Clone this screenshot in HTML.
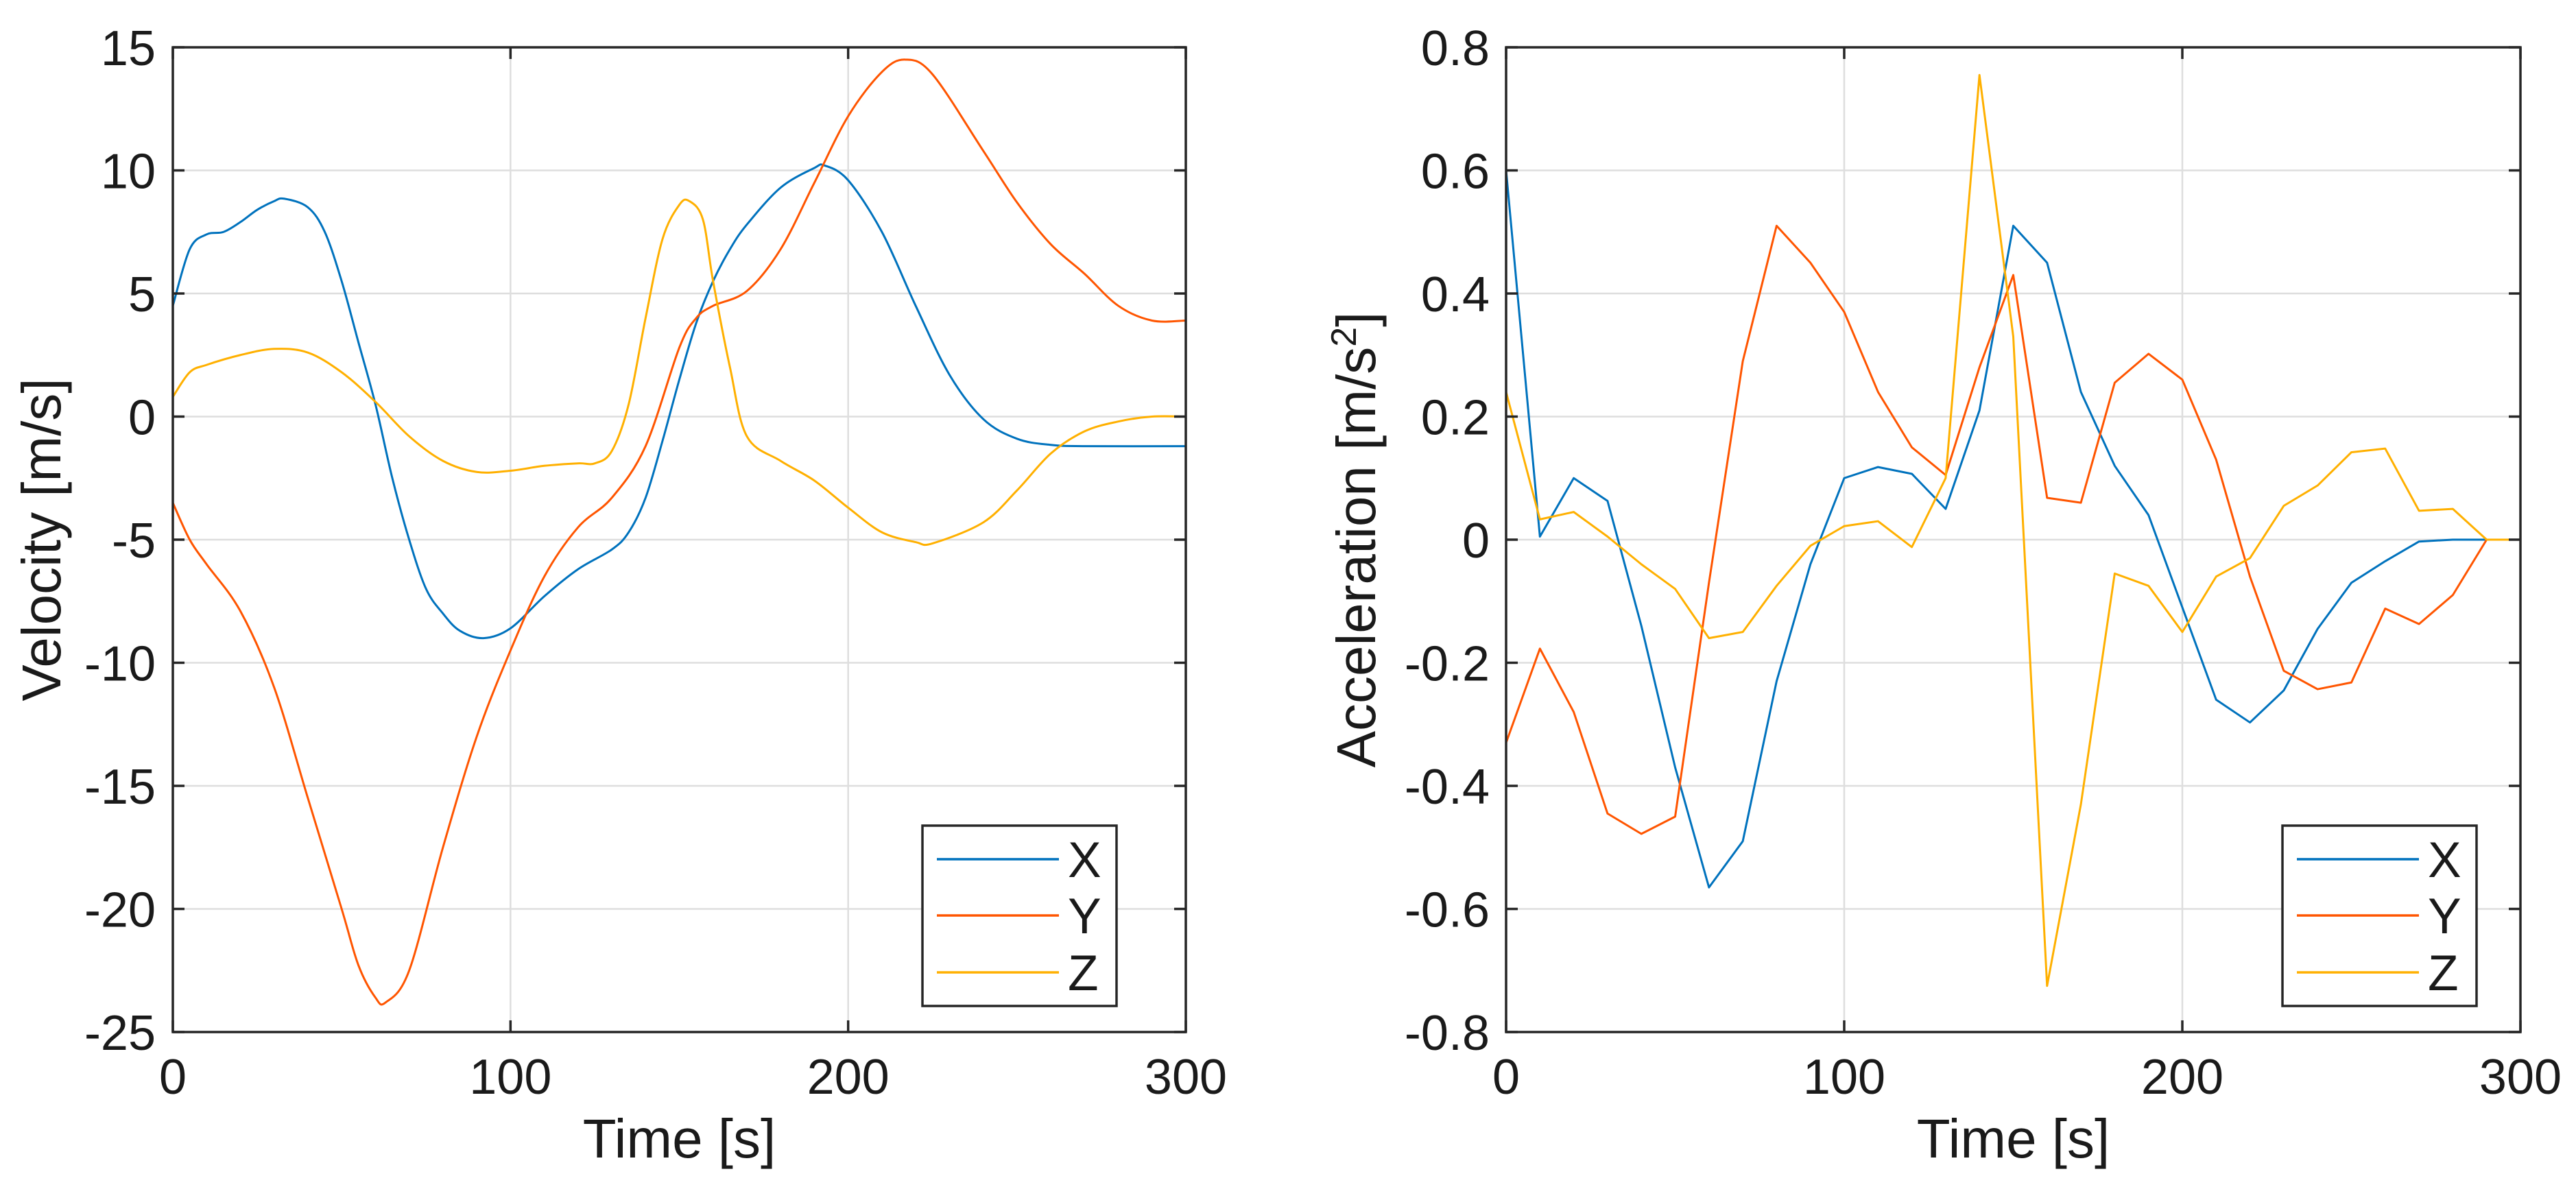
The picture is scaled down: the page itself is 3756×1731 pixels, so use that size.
<!DOCTYPE html>
<html><head><meta charset="utf-8">
<style>
html,body{margin:0;padding:0;background:#fff;}
svg{display:block;}
text{font-family:"Liberation Sans",sans-serif;fill:#1a1a1a;}
</style></head>
<body>
<svg id="fig" width="3756" height="1731" viewBox="0 0 3756 1731"></svg>
<script>
// ---- Velocity chart data ----
const velXt = [0,5,10,15,20,25,30,33,40,45,50,55,60,65,70,75,80,85,92,100,110,120,130,135,140,145,150,155,160,165,170,180,190,193,200,210,220,230,240,250,260,270,300];
const velX  = [4.5,6.8,7.4,7.5,7.9,8.4,8.75,8.85,8.5,7.5,5.5,3,0.5,-2.5,-5,-7,-8,-8.7,-9,-8.6,-7.3,-6.2,-5.4,-4.7,-3.3,-1,1.5,3.8,5.5,6.8,7.8,9.3,10.1,10.2,9.6,7.5,4.5,1.7,-0.1,-0.9,-1.15,-1.2,-1.2];
const velYt = [0,5,10,20,30,40,50,55,60,63,70,80,90,100,110,120,130,140,150,155,160,170,180,190,200,210,217,225,240,250,260,270,280,290,300];
const velY  = [-3.5,-5,-6,-7.9,-11,-15.5,-20,-22.3,-23.6,-23.8,-22.5,-17.5,-13,-9.5,-6.5,-4.5,-3.3,-1.2,2.8,4,4.5,5.1,6.8,9.5,12.2,14.0,14.5,13.9,10.8,8.7,7,5.8,4.5,3.9,3.9];
const velZt = [0,5,10,20,30,40,50,60,70,80,90,100,110,120,125,130,135,140,145,150,153,157,160,165,170,180,190,200,210,220,225,240,250,260,270,280,290,300];
const velZ  = [0.8,1.8,2.1,2.5,2.75,2.6,1.8,0.6,-0.8,-1.8,-2.25,-2.2,-2.0,-1.9,-1.9,-1.4,0.5,4,7.2,8.6,8.75,8,5.5,2,-0.8,-1.8,-2.6,-3.7,-4.7,-5.1,-5.15,-4.3,-3,-1.5,-0.6,-0.2,0,0];
const velTicksY = [-25,-20,-15,-10,-5,0,5,10,15];
const timeTicks = [0,100,200,300];
// ---- Acceleration chart data ----
const accT = [0,10,20,30,40,50,60,70,80,90,100,110,120,130,140,150,160,170,180,190,200,210,220,230,240,250,260,270,280,290,300];
const accX = [0.6,0.005,0.1,0.063,-0.14,-0.37,-0.565,-0.49,-0.23,-0.04,0.1,0.118,0.107,0.05,0.21,0.51,0.45,0.24,0.12,0.04,-0.11,-0.26,-0.297,-0.245,-0.145,-0.07,-0.035,-0.003,0,0,0];
const accY = [-0.33,-0.177,-0.28,-0.445,-0.478,-0.45,-0.07,0.29,0.51,0.45,0.37,0.24,0.15,0.105,0.28,0.43,0.068,0.06,0.255,0.302,0.26,0.13,-0.06,-0.213,-0.243,-0.232,-0.112,-0.137,-0.09,0,0];
const accZ = [0.24,0.033,0.045,0.005,-0.04,-0.08,-0.16,-0.15,-0.075,-0.01,0.022,0.03,-0.012,0.1,0.755,0.33,-0.725,-0.43,-0.055,-0.075,-0.15,-0.06,-0.03,0.055,0.088,0.142,0.148,0.047,0.05,0,0];
const accTicksY = [-0.8,-0.6,-0.4,-0.2,0,0.2,0.4,0.6,0.8];
const seriesNames = ['X','Y','Z'];

const COLORS = ['#0072BD','#FF5500','#FFB000'];
const NS = 'http://www.w3.org/2000/svg';
const svg = document.getElementById('fig');
function mk(tag, attrs, parent){
  const e = document.createElementNS(NS, tag);
  for (const k in attrs) e.setAttribute(k, attrs[k]);
  (parent||svg).appendChild(e);
  return e;
}
function smoothPath(pts){
  let d = 'M'+pts[0][0].toFixed(2)+','+pts[0][1].toFixed(2);
  for (let i=0;i<pts.length-1;i++){
    const p0=pts[Math.max(0,i-1)], p1=pts[i], p2=pts[i+1], p3=pts[Math.min(pts.length-1,i+2)];
    const c1=[p1[0]+(p2[0]-p0[0])/6, p1[1]+(p2[1]-p0[1])/6];
    const c2=[p2[0]-(p3[0]-p1[0])/6, p2[1]-(p3[1]-p1[1])/6];
    d+=' C'+c1[0].toFixed(2)+','+c1[1].toFixed(2)+' '+c2[0].toFixed(2)+','+c2[1].toFixed(2)+' '+p2[0].toFixed(2)+','+p2[1].toFixed(2);
  }
  return d;
}
function linePath(pts){ return 'M'+pts.map(p=>p[0].toFixed(2)+','+p[1].toFixed(2)).join(' L'); }

function drawChart(cfg){
  const {L,R,T,B,ymin,ymax,yticks,series,smooth,prefix,ylabel,ylabelX,legend,tickLabelRight} = cfg;
  const xs = t => L + (t-0)/300*(R-L);
  const ys = v => B - (v-ymin)/(ymax-ymin)*(B-T);
  const g = mk('g',{});
  
  
  // grid
  const grid = mk('g',{stroke:'#dedede','stroke-width':2.5},g);
  
  
  timeTicks.forEach(t=>{ if(t>0&&t<300) mk('line',{x1:xs(t),x2:xs(t),y1:T,y2:B},grid); });
  yticks.forEach(v=>{ if(v>ymin&&v<ymax) mk('line',{x1:L,x2:R,y1:ys(v),y2:ys(v)},grid); });
  // series
  series.forEach((s,i)=>{
    const pts = s.t.map((t,k)=>[xs(t), ys(s.v[k])]);
    const p = mk('path',{d: smooth?smoothPath(pts):linePath(pts), fill:'none', stroke:COLORS[i], 'stroke-width':3, 'stroke-linejoin':'round'}, g);
    
    
  });
  // axes box
  const box = mk('rect',{x:L,y:T,width:R-L,height:B-T,fill:'none',stroke:'#262626','stroke-width':3.5},g);
  
  
  const tk = mk('g',{stroke:'#262626','stroke-width':3.5},g);
  
  
  timeTicks.forEach(t=>{
    mk('line',{x1:xs(t),x2:xs(t),y1:B,y2:B-17},tk);
    mk('line',{x1:xs(t),x2:xs(t),y1:T,y2:T+17},tk);
    const lb = mk('text',{x:xs(t),y:B+90,'font-size':72,'text-anchor':'middle'},g);
    lb.textContent = t;
    
    
  });
  yticks.forEach(v=>{
    mk('line',{x1:L,x2:L+17,y1:ys(v),y2:ys(v)},tk);
    mk('line',{x1:R,x2:R-17,y1:ys(v),y2:ys(v)},tk);
    const lb = mk('text',{x:tickLabelRight,y:ys(v)+26,'font-size':72,'text-anchor':'end'},g);
    lb.textContent = String(v);
    
    
  });
  const xl = mk('text',{x:(L+R)/2,y:1688,'font-size':80,'text-anchor':'middle'},g);
  xl.textContent = 'Time [s]';
  
  
  const yl = mk('text',{x:0,y:0,'font-size':80,'text-anchor':'middle',transform:'translate('+ylabelX+','+((T+B)/2)+') rotate(-90)'},g);
  yl.innerHTML = ylabel;
  
  
  // legend
  const lg = mk('g',{},g);
  
  
  mk('rect',{x:legend.x,y:1204,width:legend.w,height:263,fill:'#fff',stroke:'#262626','stroke-width':3.5},lg);
  [1253,1335,1418].forEach((yy,i)=>{
    const e = mk('g',{},lg);
    
    
    mk('line',{x1:legend.x+21,x2:legend.x+199,y1:yy,y2:yy,stroke:COLORS[i],'stroke-width':3.5},e);
    const tx = mk('text',{x:legend.x+212,y:yy+26,'font-size':73},e);
    tx.textContent = seriesNames[i];
  });
}

drawChart({L:252,R:1729,T:69,B:1505,ymin:-25,ymax:15,yticks:velTicksY,smooth:true,prefix:'velocity',
  series:[{t:velXt,v:velX},{t:velYt,v:velY},{t:velZt,v:velZ}],
  ylabel:'Velocity [m/s]',ylabelX:88,legend:{x:1345,w:283},tickLabelRight:227});
drawChart({L:2196,R:3675,T:69,B:1505,ymin:-0.8,ymax:0.8,yticks:accTicksY,smooth:false,prefix:'acceleration',
  series:[{t:accT,v:accX},{t:accT,v:accY},{t:accT,v:accZ}],
  ylabel:'Acceleration  [m/s<tspan dy="-28" font-size="52">2</tspan><tspan dy="28">]</tspan>',ylabelX:2005,legend:{x:3328,w:283},tickLabelRight:2172});
</script>
</body></html>
